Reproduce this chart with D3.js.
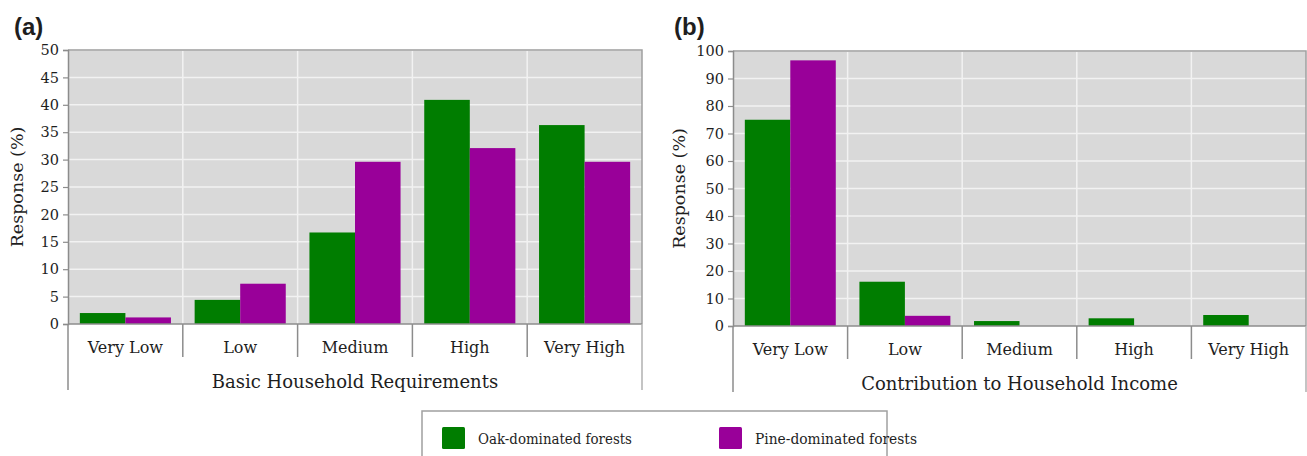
<!DOCTYPE html>
<html>
<head>
<meta charset="utf-8">
<script src="https://cdn.jsdelivr.net/npm/d3@7"></script>
<style>
  body { margin: 0; background: #fff; }
  svg text { font-family: "DejaVu Serif", serif; fill: #1e1e1e; }
</style>
</head>
<body>
<div id="chart"></div>
<script>
// data
var categories = ["Very Low", "Low", "Medium", "High", "Very High"];
var seriesNames = ["Oak-dominated forests", "Pine-dominated forests"];
var seriesColors = ["#007d00", "#990099"];

var basicOak = [2.0, 4.4, 16.7, 40.9, 36.3];
var basicPine = [1.2, 7.35, 29.6, 32.1, 29.6];
var incomeOak = [75.0, 16.1, 1.8, 2.8, 4.0];
var incomePine = [96.6, 3.7, 0, 0, 0];

var basicTicks = [0, 5, 10, 15, 20, 25, 30, 35, 40, 45, 50];
var incomeTicks = [0, 10, 20, 30, 40, 50, 60, 70, 80, 90, 100];

var svg = d3.select("#chart").append("svg")
    .attr("width", 1307)
    .attr("height", 456);

function drawPanel(opt) {
    var g = svg.append("g").attr("transform", "translate(" + opt.left + "," + opt.top + ")");
    var w = opt.width, h = opt.height;

    var x = d3.scaleBand().domain(categories).range([0, w]);
    var xs = d3.scaleBand().domain([0, 1]).range([0, x.bandwidth()]).paddingOuter(0.26);
    var y = d3.scaleLinear().domain([0, opt.max]).range([h, 0]);

    // plot background
    g.append("rect").attr("width", w).attr("height", h).attr("fill", "#d9d9d9");

    // horizontal grid
    g.selectAll(".hgrid").data(opt.ticks.slice(1)).enter().append("line")
        .attr("x1", 0).attr("x2", w)
        .attr("y1", function (d) { return y(d); }).attr("y2", function (d) { return y(d); })
        .attr("stroke", "#f2f2f2").attr("stroke-width", 1.5);

    // vertical grid between categories
    g.selectAll(".vgrid").data(categories.slice(1)).enter().append("line")
        .attr("x1", function (d) { return x(d); }).attr("x2", function (d) { return x(d); })
        .attr("y1", 0).attr("y2", h)
        .attr("stroke", "#f2f2f2").attr("stroke-width", 1.5);

    // bars
    var groups = g.selectAll(".cat").data(categories).enter().append("g")
        .attr("transform", function (d) { return "translate(" + x(d) + ",0)"; });
    groups.selectAll("rect").data(function (d, i) {
        return [opt.a[i], opt.b[i]];
    }).enter().append("rect")
        .attr("x", function (d, j) { return xs(j); })
        .attr("width", xs.bandwidth())
        .attr("y", function (d) { return y(d); })
        .attr("height", function (d) { return h - y(d); })
        .attr("fill", function (d, j) { return seriesColors[j]; });

    // frame (top and right)
    g.append("path")
        .attr("d", "M0,0H" + w + "V" + h)
        .attr("fill", "none").attr("stroke", "#a0a0a0").attr("stroke-width", 1.5);

    // y axis
    var yAxis = g.append("g").call(d3.axisLeft(y).tickValues(opt.ticks).tickSize(5).tickPadding(4));
    yAxis.select(".domain").attr("stroke", "#8c8c8c").attr("stroke-width", 1.5);
    yAxis.selectAll(".tick line").attr("stroke", "#8c8c8c").attr("stroke-width", 1.2);
    yAxis.selectAll(".tick text").attr("font-size", 14.5).attr("font-family", "DejaVu Serif").attr("fill", "#1e1e1e");

    // x axis base line and category separators
    g.append("line").attr("x1", 0).attr("x2", w).attr("y1", h).attr("y2", h)
        .attr("stroke", "#8c8c8c").attr("stroke-width", 1.5);
    g.selectAll(".sep").data(categories.slice(1)).enter().append("line")
        .attr("x1", function (d) { return x(d); }).attr("x2", function (d) { return x(d); })
        .attr("y1", h).attr("y2", h + 33)
        .attr("stroke", "#8c8c8c").attr("stroke-width", 1.5);
    // left and right lines running down to the title
    g.append("line").attr("x1", 0).attr("x2", 0).attr("y1", h).attr("y2", h + 66)
        .attr("stroke", "#8c8c8c").attr("stroke-width", 1.5);
    g.append("line").attr("x1", w).attr("x2", w).attr("y1", h).attr("y2", h + 66)
        .attr("stroke", "#b0b0b0").attr("stroke-width", 1.5);

    g.selectAll(".cl").data(categories).enter().append("text")
        .attr("x", function (d) { return x(d) + x.bandwidth() / 2; })
        .attr("y", h + 29)
        .attr("text-anchor", "middle")
        .attr("font-size", 16)
        .text(function (d) { return d; });

    g.append("text")
        .attr("x", w / 2).attr("y", h + 64)
        .attr("text-anchor", "middle")
        .attr("font-size", 18)
        .text(opt.xTitle);

    g.append("text")
        .attr("transform", "translate(" + opt.yTitleX + "," + (h / 2) + ") rotate(-90)")
        .attr("text-anchor", "middle")
        .attr("font-size", 17.5)
        .text("Response (%)");

    svg.append("text")
        .attr("x", opt.tagX).attr("y", 35)
        .attr("font-weight", "bold")
        .attr("font-size", 24)
        .attr("fill", "#111")
        .style("font-family", "Liberation Sans, Arial, sans-serif")
        .text(opt.tag);
}

drawPanel({
    left: 68, top: 50, width: 574, height: 274, max: 50,
    ticks: basicTicks, a: basicOak, b: basicPine,
    xTitle: "Basic Household Requirements", yTitleX: -45,
    tag: "(a)", tagX: 14
});

drawPanel({
    left: 733, top: 51, width: 573, height: 275, max: 100,
    ticks: incomeTicks, a: incomeOak, b: incomePine,
    xTitle: "Contribution to Household Income", yTitleX: -48,
    tag: "(b)", tagX: 674
});

// legend
var legend = svg.append("g").attr("transform", "translate(422,411)");
legend.append("rect")
    .attr("width", 465).attr("height", 60)
    .attr("fill", "#fff").attr("stroke", "#a0a0a0").attr("stroke-width", 1.5);
var legendX = d3.scaleOrdinal().domain(seriesNames).range([20, 297]);
var legendLen = d3.scaleOrdinal().domain(seriesNames).range([154, 162]);
var items = legend.selectAll(".item").data(seriesNames).enter().append("g")
    .attr("transform", function (d) { return "translate(" + legendX(d) + ",16)"; });
items.append("rect")
    .attr("width", 23).attr("height", 22).attr("rx", 1.5)
    .attr("fill", function (d, i) { return seriesColors[i]; });
items.append("text")
    .attr("x", 36).attr("y", 17)
    .attr("font-size", 15)
    .attr("textLength", function (d) { return legendLen(d); })
    .attr("lengthAdjust", "spacingAndGlyphs")
    .text(function (d) { return d; });
</script>
</body>
</html>
